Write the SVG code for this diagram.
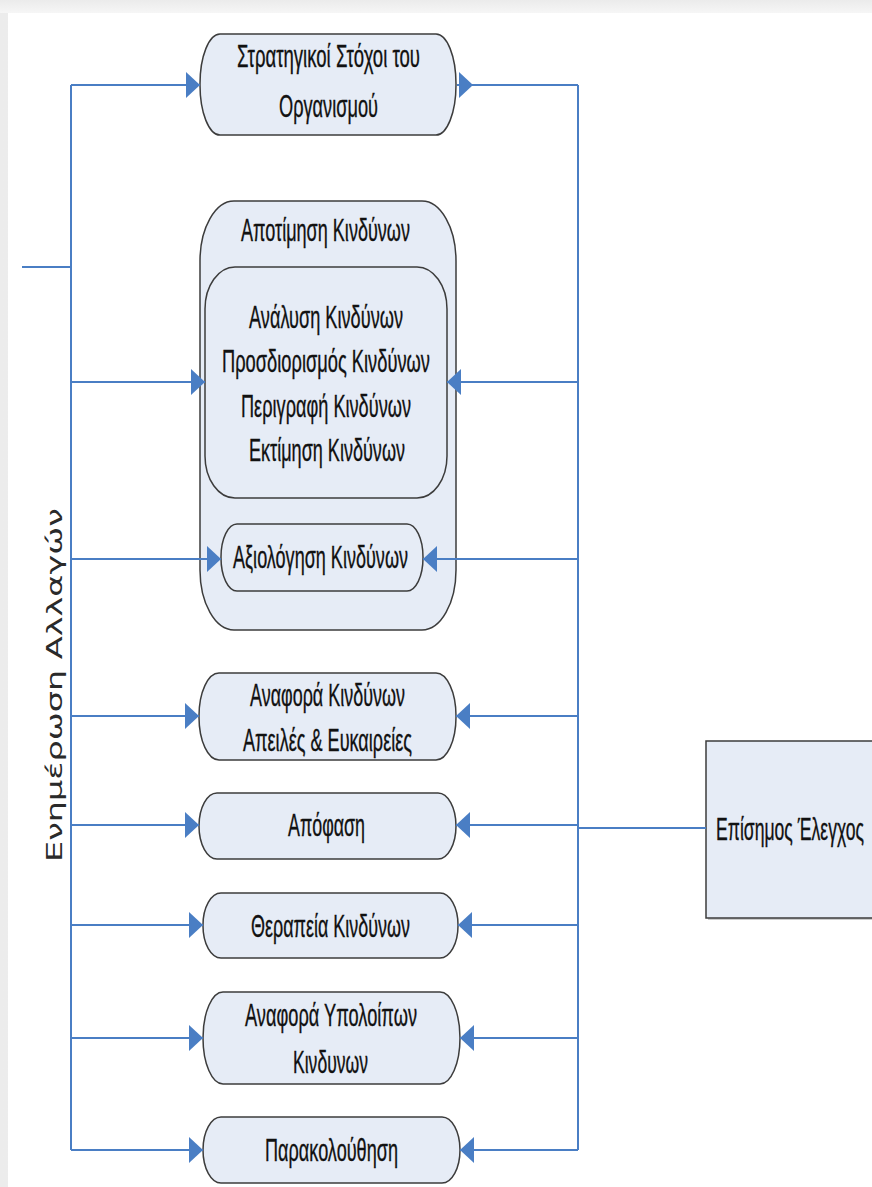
<svg xmlns="http://www.w3.org/2000/svg" width="872" height="1187" viewBox="0 0 872 1187">
  <style>
    .node { fill: #e6ecf6; stroke: #3c3c3c; stroke-width: 1.5; }
    .lbl { font-family: "Liberation Sans", Arial, sans-serif; font-size: 31px; fill: #111; stroke: #111; stroke-width: 0.35; }
    .side { font-family: "DejaVu Sans", Verdana, sans-serif; font-size: 20.5px; fill: #2a2a2a; }
    .wire { fill: none; stroke: #4a7ec4; stroke-width: 2; }
    .arrowed { marker-end: url(#tri); }
  </style>
  <defs>
    <linearGradient id="bandTop" x1="0" y1="0" x2="0" y2="1">
      <stop offset="0" stop-color="#ebebeb"/>
      <stop offset="1" stop-color="#f6f6f6"/>
    </linearGradient>
    <linearGradient id="bandLeft" x1="0" y1="0" x2="1" y2="0">
      <stop offset="0" stop-color="#ececec"/>
      <stop offset="1" stop-color="#f6f6f6"/>
    </linearGradient>
    <marker id="tri" markerUnits="userSpaceOnUse" markerWidth="14" markerHeight="26" refX="14" refY="13" orient="auto">
      <path d="M0,0 L14,13 L0,26 Z" fill="#4a7ec4"/>
    </marker>
  </defs>

  <!-- page frame -->
  <rect x="0" y="0" width="872" height="1187" fill="url(#bandLeft)"/>
  <rect x="0" y="0" width="872" height="13" fill="url(#bandTop)"/>
  <rect x="8" y="13" width="864" height="1174" fill="#ffffff"/>

  <!-- side caption -->
  <g id="side-caption">
    <text class="side" transform="translate(62,862) rotate(-90)" textLength="354" lengthAdjust="spacingAndGlyphs">Ενημέρωση Αλλαγών</text>
  </g>

  <g id="strategic-goals">
    <rect class="node" x="200" y="34" width="256" height="101" rx="20" ry="50"/>
    <text class="lbl" x="237" y="67" textLength="183" lengthAdjust="spacingAndGlyphs">Στρατηγικοί Στόχοι του</text>
    <text class="lbl" x="279" y="117" textLength="99" lengthAdjust="spacingAndGlyphs">Οργανισμού</text>
  </g>

  <g id="risk-assessment">
    <rect class="node" x="200" y="201" width="256" height="429" rx="34" ry="60"/>
    <text class="lbl" x="241" y="241" textLength="169" lengthAdjust="spacingAndGlyphs">Αποτίμηση Κινδύνων</text>
  </g>

  <g id="risk-analysis">
    <rect class="node" x="205" y="267" width="242" height="231" rx="30" ry="42"/>
    <text class="lbl" x="249" y="328" textLength="154" lengthAdjust="spacingAndGlyphs">Ανάλυση Κινδύνων</text>
    <text class="lbl" x="222" y="372" textLength="208" lengthAdjust="spacingAndGlyphs">Προσδιορισμός Κινδύνων</text>
    <text class="lbl" x="241" y="417" textLength="170" lengthAdjust="spacingAndGlyphs">Περιγραφή Κινδύνων</text>
    <text class="lbl" x="249" y="461" textLength="156" lengthAdjust="spacingAndGlyphs">Εκτίμηση Κινδύνων</text>
  </g>

  <g id="risk-evaluation">
    <rect class="node" x="221" y="524" width="202" height="67" rx="16" ry="33"/>
    <text class="lbl" x="233" y="568" textLength="175" lengthAdjust="spacingAndGlyphs">Αξιολόγηση Κινδύνων</text>
  </g>

  <g id="risk-reporting">
    <rect class="node" x="199" y="673" width="257" height="87" rx="20" ry="43"/>
    <text class="lbl" x="250" y="706" textLength="155" lengthAdjust="spacingAndGlyphs">Αναφορά Κινδύνων</text>
    <text class="lbl" x="243" y="751" textLength="169" lengthAdjust="spacingAndGlyphs">Απειλές &amp; Ευκαιρείες</text>
  </g>

  <g id="decision">
    <rect class="node" x="199" y="793" width="257" height="66" rx="18" ry="33"/>
    <text class="lbl" x="288" y="836" textLength="77" lengthAdjust="spacingAndGlyphs">Απόφαση</text>
  </g>

  <g id="risk-treatment">
    <rect class="node" x="203" y="893" width="255" height="65" rx="18" ry="32"/>
    <text class="lbl" x="251" y="937" textLength="159" lengthAdjust="spacingAndGlyphs">Θεραπεία Κινδύνων</text>
  </g>

  <g id="residual-risk-reporting">
    <rect class="node" x="203" y="992" width="257" height="92" rx="20" ry="46"/>
    <text class="lbl" x="245" y="1026" textLength="172" lengthAdjust="spacingAndGlyphs">Αναφορά Υπολοίπων</text>
    <text class="lbl" x="293" y="1073" textLength="75" lengthAdjust="spacingAndGlyphs">Κινδυνων</text>
  </g>

  <g id="monitoring">
    <rect class="node" x="203" y="1117" width="257" height="66" rx="18" ry="33"/>
    <text class="lbl" x="265" y="1161" textLength="133" lengthAdjust="spacingAndGlyphs">Παρακολούθηση</text>
  </g>

  <g id="formal-audit">
    <rect x="708" y="743" width="180" height="177" fill="#9a9a9a" opacity="0.5"/>
    <rect class="node" x="706" y="741" width="180" height="177"/>
    <text class="lbl" x="716" y="840" textLength="148" lengthAdjust="spacingAndGlyphs">Επίσημος Έλεγχος</text>
  </g>

  <!-- connectors, drawn last so the arrows into the nested boxes stay visible -->
  <g id="connectors">
    <path class="wire" d="M71,85 V1150"/>
    <path class="wire" d="M22,267 H71"/>
    <path class="wire" d="M578,85 V1150"/>
    <path class="wire" d="M578,828 H706"/>

    <!-- left feed -->
    <path class="wire arrowed" d="M71,85 H200"/>
    <path class="wire arrowed" d="M71,382 H205"/>
    <path class="wire arrowed" d="M71,559 H221"/>
    <path class="wire arrowed" d="M71,716 H199"/>
    <path class="wire arrowed" d="M71,825 H199"/>
    <path class="wire arrowed" d="M71,925 H203"/>
    <path class="wire arrowed" d="M71,1038 H203"/>
    <path class="wire arrowed" d="M71,1150 H203"/>

    <!-- right feed -->
    <path class="wire arrowed" d="M457,85 H473"/>
    <path class="wire" d="M473,85 H578"/>
    <path class="wire arrowed" d="M578,382 H447"/>
    <path class="wire arrowed" d="M578,559 H423"/>
    <path class="wire arrowed" d="M578,716 H456"/>
    <path class="wire arrowed" d="M578,825 H456"/>
    <path class="wire arrowed" d="M578,925 H458"/>
    <path class="wire arrowed" d="M578,1038 H460"/>
    <path class="wire arrowed" d="M578,1150 H460"/>
  </g>
</svg>
